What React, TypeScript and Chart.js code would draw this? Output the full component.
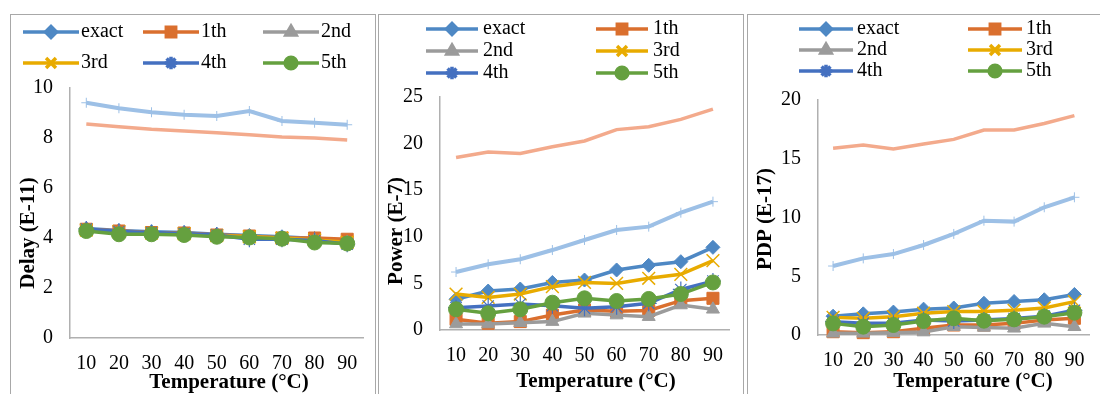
import React, { useEffect, useRef } from 'react';
import { Chart, registerables } from 'chart.js';
import { drawPoint } from 'chart.js/helpers';

Chart.register(...registerables);

const FONT = "'Liberation Serif', 'Times New Roman', serif";

// ---------- data ----------
const temperatures = ['10', '20', '30', '40', '50', '60', '70', '80', '90'];
const seriesNames = ['exact', '1th', '2nd', '3rd', '4th', '5th'];

const delayExact = [4.38, 4.3, 4.25, 4.22, 4.15, 4.1, 4.05, 3.98, 3.85];
const delay1th = [4.35, 4.28, 4.22, 4.2, 4.12, 4.08, 4.0, 4.0, 3.95];
const delay2nd = [4.3, 4.22, 4.18, 4.15, 4.08, 4.05, 3.98, 3.9, 3.82];
const delay3rd = [4.32, 4.25, 4.2, 4.17, 4.1, 4.05, 4.0, 3.92, 3.83];
const delay4th = [4.36, 4.26, 4.22, 4.18, 4.12, 3.95, 3.95, 3.9, 3.75];
const delay5th = [4.28, 4.15, 4.15, 4.12, 4.05, 4.02, 3.97, 3.82, 3.78];
const delayRefA = [9.41, 9.19, 9.03, 8.93, 8.88, 9.08, 8.68, 8.61, 8.53];
const delayRefB = [8.56, 8.45, 8.35, 8.28, 8.21, 8.13, 8.04, 8.0, 7.92];

const powerExact = [3.3, 4.18, 4.4, 5.1, 5.36, 6.44, 6.94, 7.33, 8.87];
const power1th = [1.15, 0.72, 0.9, 1.6, 2.15, 2.0, 2.1, 3.15, 3.4];
const power2nd = [0.64, 0.64, 0.78, 0.9, 1.79, 1.6, 1.43, 2.68, 2.22];
const power3rd = [3.86, 3.5, 3.86, 4.65, 5.1, 5.0, 5.55, 5.97, 7.44];
const power4th = [2.4, 2.57, 2.79, 2.6, 2.33, 2.5, 2.86, 4.35, 5.25];
const power5th = [2.22, 1.79, 2.22, 2.93, 3.4, 3.11, 3.33, 3.86, 5.1];
const powerRefA = [6.22, 7.05, 7.59, 8.58, 9.66, 10.73, 11.09, 12.59, 13.77];
const powerRefB = [18.5, 19.1, 18.95, 19.67, 20.28, 21.5, 21.8, 22.6, 23.7];

const pdpExact = [1.6, 1.8, 1.95, 2.2, 2.3, 2.7, 2.85, 3.0, 3.45];
const pdp1th = [0.28, 0.2, 0.28, 0.57, 0.85, 0.85, 0.99, 1.28, 1.42];
const pdp2nd = [0.14, 0.14, 0.2, 0.25, 0.71, 0.64, 0.57, 0.99, 0.7];
const pdp3rd = [1.5, 1.42, 1.56, 1.85, 1.99, 2.0, 2.1, 2.3, 2.84];
const pdp4th = [1.13, 0.99, 1.0, 1.28, 1.2, 1.28, 1.4, 1.6, 2.1];
const pdp5th = [0.99, 0.71, 0.85, 1.19, 1.42, 1.22, 1.33, 1.56, 1.9];
const pdpRefA = [5.87, 6.52, 6.89, 7.66, 8.6, 9.73, 9.65, 10.87, 11.72];
const pdpRefB = [15.9, 16.17, 15.83, 16.26, 16.65, 17.45, 17.45, 18.0, 18.67];

const delayTicks = { max: 10, step: 2 };
const powerTicks = { max: 25, step: 5 };
const pdpTicks = { max: 20, step: 5 };

// ---------- styles ----------
const STYLES = [
  { color: '#4E88C4', pointStyle: 'rectRot', radius: 7, bw: 1 },
  { color: '#DA6F2E', pointStyle: 'rect', radius: 8.5, bw: 1 },
  { color: '#9B9B9B', pointStyle: 'triangle', radius: 7.5, bw: 1 },
  { color: '#E8AB00', pointStyle: 'crossRot', radius: 9, bw: 1.5 },
  { color: '#4470C0', pointStyle: 'star', radius: 8, bw: 1.2 },
  { color: '#65A03F', pointStyle: 'circle', radius: 7.5, bw: 1 },
];
const REF_STYLES = [
  { color: '#9DC0E6', pointStyle: 'cross', radius: 5, bw: 1, lw: 4 },
  { color: '#F3AA8C', pointStyle: 'circle', radius: 0, bw: 0, lw: 3.5 },
];

const extrasPlugin = {
  id: 'extras',
  afterDraw(chart: any, _args: any, opts: any) {
    const { ctx } = chart;
    const lg = opts.legend;
    ctx.save();
    seriesNames.forEach((name, i) => {
      const st = STYLES[i];
      const col = i % lg.cols;
      const row = Math.floor(i / lg.cols);
      const x = lg.x0 + col * lg.colW;
      const y = lg.y0 + row * lg.rowH;
      ctx.strokeStyle = st.color;
      ctx.lineWidth = 3.5;
      ctx.beginPath();
      ctx.moveTo(x, y);
      ctx.lineTo(x + lg.lineLen, y);
      ctx.stroke();
      ctx.fillStyle = st.color;
      ctx.strokeStyle = st.color;
      drawPoint(ctx, { pointStyle: st.pointStyle, radius: st.radius * 0.78, rotation: 0, borderWidth: st.bw }, x + lg.lineLen / 2, y);
      ctx.fillStyle = '#000';
      ctx.font = `20px ${FONT}`;
      ctx.textBaseline = 'middle';
      ctx.textAlign = 'left';
      ctx.fillText(name, x + lg.lineLen + lg.gap, y);
    });
    ctx.font = `bold 21px ${FONT}`;
    ctx.fillStyle = '#000';
    ctx.textAlign = 'center';
    ctx.textBaseline = 'middle';
    ctx.fillText(opts.xTitle.text, opts.xTitle.x, opts.xTitle.y);
    ctx.translate(opts.yTitle.x, opts.yTitle.y);
    ctx.rotate(-Math.PI / 2);
    ctx.fillText(opts.yTitle.text, 0, 0);
    ctx.restore();
  },
};

function makeDatasets(main: number[][], refs: number[][]) {
  const ds: any[] = [];
  main.forEach((data, i) => {
    const st = STYLES[i];
    ds.push({
      label: seriesNames[i],
      data,
      borderColor: st.color,
      backgroundColor: st.color,
      borderWidth: 3.5,
      pointStyle: st.pointStyle,
      pointRadius: st.radius,
      pointBackgroundColor: st.color,
      pointBorderColor: st.color,
      pointBorderWidth: st.bw,
      tension: 0,
      clip: false,
      order: 20 - i,
    });
  });
  refs.forEach((data, j) => {
    const st = REF_STYLES[j];
    ds.push({
      label: 'ref' + (j + 1),
      data,
      borderColor: st.color,
      backgroundColor: st.color,
      borderWidth: st.lw,
      pointStyle: st.pointStyle,
      pointRadius: st.radius,
      pointBackgroundColor: st.color,
      pointBorderColor: st.color,
      pointBorderWidth: st.bw,
      tension: 0,
      clip: false,
      order: 10 - j,
    });
  });
  return ds;
}

type PanelCfg = {
  left: number;
  width: number;
  main: number[][];
  refs: number[][];
  ticks: { max: number; step: number };
  yw: number;
  padRight: number;
  padTop: number;
  xh: number;
  legend: any;
  xTitle: any;
  yTitle: any;
};

const HEIGHT = 379;

function Panel({ cfg }: { cfg: PanelCfg }) {
  const ref = useRef<HTMLCanvasElement>(null);
  useEffect(() => {
    const tickFont = { family: FONT, size: 20 };
    const chart = new Chart(ref.current as HTMLCanvasElement, {
      type: 'line',
      data: { labels: temperatures, datasets: makeDatasets(cfg.main, cfg.refs) },
      options: {
        animation: false,
        responsive: false,
        maintainAspectRatio: false,
        layout: { padding: { left: 0, right: cfg.padRight, top: cfg.padTop, bottom: 0 } },
        plugins: {
          legend: { display: false },
          tooltip: { enabled: false },
          extras: { legend: cfg.legend, xTitle: cfg.xTitle, yTitle: cfg.yTitle },
        } as any,
        scales: {
          x: {
            type: 'category',
            offset: true,
            grid: { display: false, drawTicks: false },
            border: { display: true, color: '#b0b0b0', width: 1.5 },
            ticks: { font: tickFont, color: '#000', padding: 14, maxRotation: 0, autoSkip: false },
            afterFit: (s: any) => {
              s.height = cfg.xh;
            },
          },
          y: {
            min: 0,
            max: cfg.ticks.max,
            grid: { display: false, drawTicks: false },
            border: { display: true, color: '#b0b0b0', width: 1.5 },
            ticks: { stepSize: cfg.ticks.step, font: tickFont, color: '#000', padding: 17 },
            afterFit: (s: any) => {
              s.width = cfg.yw;
            },
          },
        },
      } as any,
      plugins: [extrasPlugin],
    });
    return () => chart.destroy();
  }, [cfg]);
  return (
    <canvas
      ref={ref}
      width={cfg.width}
      height={HEIGHT}
      style={{ position: 'absolute', left: cfg.left, top: 15, width: cfg.width, height: HEIGHT }}
    />
  );
}

const PANELS: PanelCfg[] = [
  {
    left: 11,
    width: 363,
    main: [delayExact, delay1th, delay2nd, delay3rd, delay4th, delay5th],
    refs: [delayRefA, delayRefB],
    ticks: delayTicks,
    yw: 59,
    padRight: 6,
    padTop: 73,
    xh: 56,
    legend: { cols: 3, x0: 12, colW: 120, y0: 17, rowH: 31, lineLen: 56, gap: 2 },
    xTitle: { text: 'Temperature (°C)', x: 218, y: 368 },
    yTitle: { text: 'Delay (E-11)', x: 18, y: 218 },
  },
  {
    left: 379,
    width: 363,
    main: [powerExact, power1th, power2nd, power3rd, power4th, power5th],
    refs: [powerRefA, powerRefB],
    ticks: powerTicks,
    yw: 61,
    padRight: 13,
    padTop: 82,
    xh: 64,
    legend: { cols: 2, x0: 47, colW: 170, y0: 14, rowH: 22, lineLen: 52, gap: 5 },
    xTitle: { text: 'Temperature (°C)', x: 217, y: 367 },
    yTitle: { text: 'Power (E-7)', x: 17.5, y: 216 },
  },
  {
    left: 748,
    width: 352,
    main: [pdpExact, pdp1th, pdp2nd, pdp3rd, pdp4th, pdp5th],
    refs: [pdpRefA, pdpRefB],
    ticks: pdpTicks,
    yw: 70,
    padRight: 3,
    padTop: 85,
    xh: 59,
    legend: { cols: 2, x0: 51, colW: 169, y0: 14, rowH: 21, lineLen: 54, gap: 4 },
    xTitle: { text: 'Temperature (°C)', x: 225, y: 367 },
    yTitle: { text: 'PDP (E-17)', x: 17.5, y: 204 },
  },
];

const BOXES = [
  { left: 10, width: 366 },
  { left: 378, width: 366 },
  { left: 747, width: 400 },
];

export default function App() {
  return (
    <div
      style={{
        position: 'fixed',
        left: 0,
        top: 0,
        width: 1100,
        height: 394,
        overflow: 'hidden',
        background: '#fff',
      }}
    >
      {BOXES.map((b, i) => (
        <div
          key={i}
          style={{
            position: 'absolute',
            left: b.left,
            top: 14,
            width: b.width,
            height: 420,
            boxSizing: 'border-box',
            border: '1.5px solid #a8a8a8',
          }}
        />
      ))}
      {PANELS.map((p, i) => (
        <Panel key={i} cfg={p} />
      ))}
    </div>
  );
}
